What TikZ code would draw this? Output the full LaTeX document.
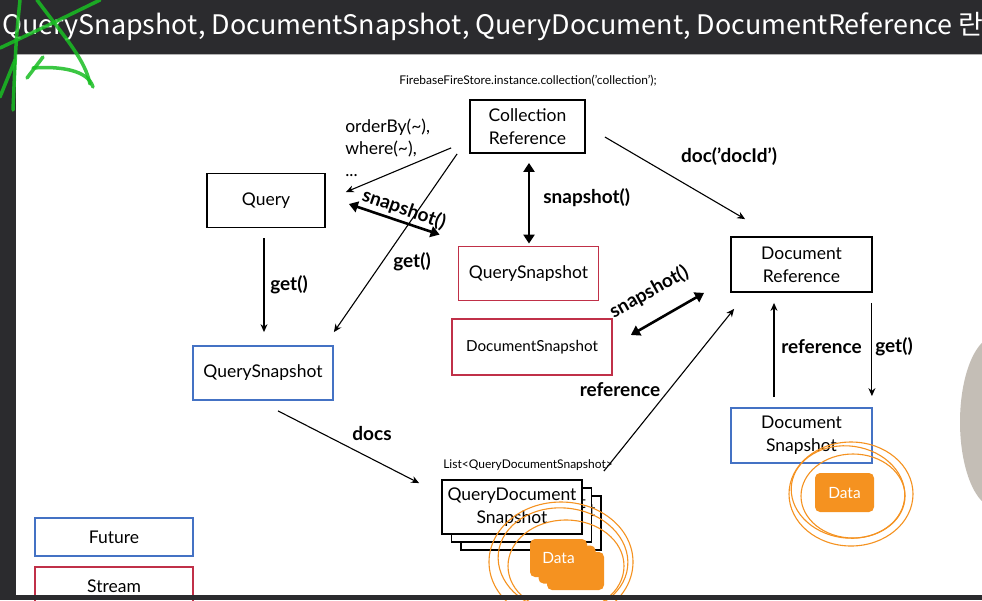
\documentclass[tikz,border=0pt]{standalone}
\usepackage{fontspec}
\setmainfont{Lato}
\newfontfamily\krfont{Noto Sans CJK KR}
\usetikzlibrary{arrows.meta, calc}

\definecolor{futureblue}{RGB}{68,114,196}
\definecolor{streamred}{RGB}{192,48,72}
\definecolor{dataorange}{RGB}{245,146,32}
\definecolor{titlebar}{RGB}{43,43,46}
\definecolor{scribble}{RGB}{25,190,35}
\definecolor{webcam}{RGB}{196,190,182}

\begin{document}
\begin{tikzpicture}[
            x = 1pt, y = -1pt, % pixel grid, origin at top left
            > = Stealth, % arrow head style
            semithick % line style
        ]

        \tikzstyle{box}=[
            draw = black,
            line width = 1.8pt,
            fill = white,
            minimum width = 118pt,
            minimum height = 54pt,
            align = center,
            inner sep = 2pt,
            font = \fontsize{17.5}{23}\selectfont
        ]
        \tikzstyle{future}=[box, draw = futureblue]
        \tikzstyle{stream}=[box, draw = streamred]
        \tikzstyle{data}=[
            fill = dataorange,
            rounded corners = 5pt,
            text = white,
            minimum width = 57pt,
            minimum height = 38pt,
            font = \fontsize{15.5}{18}\selectfont
        ]
        \tikzstyle{lbl}=[inner sep = 0pt, font = \fontsize{19}{22}\selectfont\bfseries]
        \tikzstyle{link}=[->, line width = 1.1pt, >={Stealth[length=8pt, width=7pt]}]
        \tikzstyle{both}=[<->, line width = 2.6pt, >={Triangle[length=9pt, width=11pt]}]
        \tikzstyle{loop}=[dataorange, line width = 1.1pt]

	\useasboundingbox (0,0) rectangle (982,600);
	\clip (0,0) rectangle (982,600);

	% slide and frame
	\fill[white] (0,0) rectangle (982,600);
	\fill[titlebar] (0,0) rectangle (982,54);
	\fill[titlebar] (0,0) rectangle (16,600);
	\draw[gray!60, thin] (16,54.5) -- (982,54.5);
	\node[anchor = west, text = white, inner sep = 0pt, font = \krfont\fontsize{26.9}{30}\selectfont] (title) at (2,27) {QuerySnapshot, DocumentSnapshot, QueryDocument, DocumentReference 란};

	% boxes
	\node (fire) at (528,81) [font = \fontsize{12}{14}\selectfont] {FirebaseFireStore.instance.collection('collection');};
	\node[box] (coll) at (527.5,126.5) [minimum width = 115pt, minimum height = 53pt] {Collection\\Reference};
	\node[box] (query) at (266,200.5) {Query};
	\node[stream] (qsred) at (528.5,273.5) [minimum width = 140pt] {QuerySnapshot};
	\node[stream] (dsred) at (532,347) [minimum width = 160pt, minimum height = 56pt, font = \fontsize{15.2}{18}\selectfont] {DocumentSnapshot};
	\node[box] (docref) at (801.5,264.5) [minimum width = 141pt, minimum height = 55pt] {Document\\Reference};
	\node[future] (docsnap) at (801.5,435.5) [minimum width = 141pt, minimum height = 55pt] {Document\\Snapshot};
	\node[future] (qsblue) at (263,373) [minimum width = 140pt] {QuerySnapshot};
	\node[future] (fut) at (114,537) [minimum width = 158pt, minimum height = 38pt] {Future};
	\node[stream] (strm) at (114,586) [minimum width = 158pt, minimum height = 38pt] {Stream};

	% list of documents
	\node (list) at (528,465) [font = \fontsize{12}{14}\selectfont] {List<QueryDocumentSnapshot>};
	\foreach \d in {2,1}
		\node[box] (qds\d) at ({512+9.5*\d},{507+8*\d}) [minimum width = 140pt] {QueryDocument\\Snapshot};
	\node[box] (qds) at (512,507) [minimum width = 140pt] {QueryDocument\\Snapshot};
	\foreach \d in {2,1}
		\node[data] (dat\d) at ({558.5+8.5*\d},{558+6.5*\d}) {};
	\node[data] (dat) at (558.5,558) {Data};
	\node[data] (datr) at (844.5,492.5) [minimum width = 59pt, minimum height = 39pt] {Data};

	% connectors
	\node (ops) at (345,119) [anchor = north west, align = left, inner sep = 0pt, font = \fontsize{17.5}{22}\selectfont] {orderBy(\textasciitilde),\\where(\textasciitilde),\\...};
	\draw[link] ($(coll.south west)+(-18,-6)$) -- ($(query.east)+(20,-8.5)$);
	\draw[link] ($(coll.south west)+(-12,0)$) -- ($(qsblue.north east)+(0,-13)$);
	\node[lbl] (lget1) at (412,262) {get()};
	\draw[both] ($(query.east)+(23,3.5)$) -- ($(qsred.north west)+(-18,-11)$);
	\node[lbl, rotate = -19] (lsnap1) at (404,209) {snapshot()};
	\draw[both] ($(coll.south)+(1.5,9)$) -- ($(qsred.north)+(0.5,-2)$);
	\node[lbl, anchor = west] (lsnap2) at (543,198) {snapshot()};
	\draw[link] ($(coll.east)+(19,10.5)$) -- ($(docref.north west)+(15,-17)$);
	\node[lbl] (ldoc) at (729,157) {doc('docId')};
	\draw[both] ($(dsred.east)+(18,-12)$) -- ($(docref.south west)+(-26,0)$);
	\node[lbl, rotate = 29] (lsnap3) at (649,292) {snapshot()};
	\draw[link] ($(qds.north east)+(21,-8)$) -- ($(docref.south west)+(4,16)$);
	\node[lbl] (lref1) at (620,390) {reference};
	\draw[link] ($(docsnap.north)+(-27.5,-10)$) -- ($(docref.south)+(-27.5,10)$);
	\node[lbl, anchor = west] (lref2) at (781,347) {reference};
	\draw[link] ($(docref.south east)+(-1,10)$) -- ($(docsnap.north east)+(-1,-11)$);
	\node[lbl, anchor = west] (lget2) at (875,347) {get()};
	\draw[link] ($(query.south)+(-2,10)$) -- ($(qsblue.north)+(1,-13)$);
	\node[lbl, anchor = west] (lget3) at (270,285) {get()};
	\draw[link] ($(qsblue.south)+(15,10)$) -- ($(qds.north west)+(-22,4)$);
	\node[lbl] (ldocs) at (372,434) {docs};

	% pen marks
	\draw[loop] (851,494) ellipse [x radius = 62, y radius = 52];
	\draw[loop, rotate around = {-8:(848,492)}] (848,492) ellipse [x radius = 57, y radius = 46];
	\draw[loop] (853,496) ellipse [x radius = 52, y radius = 42];
	\draw[loop] (561,562) ellipse [x radius = 72, y radius = 60];
	\draw[loop, rotate around = {-6:(563,560)}] (563,560) ellipse [x radius = 65, y radius = 52];
	\draw[loop] (566,566) ellipse [x radius = 58, y radius = 46];
	\begin{scope}[scribble, line width = 3.5pt, line cap = round, opacity = .85]
		\draw (20,0) .. controls (16,40) .. (13,110);
		\draw (100,0) .. controls (55,22) .. (0,48);
		\draw (37,0) .. controls (67,40) and (85,60) .. (90,84);
		\draw (33,68) .. controls (60,66) and (88,70) .. (93,87);
		\draw (43,57) -- (27,78);
		\draw (0,97) -- (15,60);
	\end{scope}
	\fill[webcam] (996,422) ellipse [x radius = 36, y radius = 86];
	\fill[titlebar] (0,595) rectangle (982,600);

    \end{tikzpicture}
\end{document}
